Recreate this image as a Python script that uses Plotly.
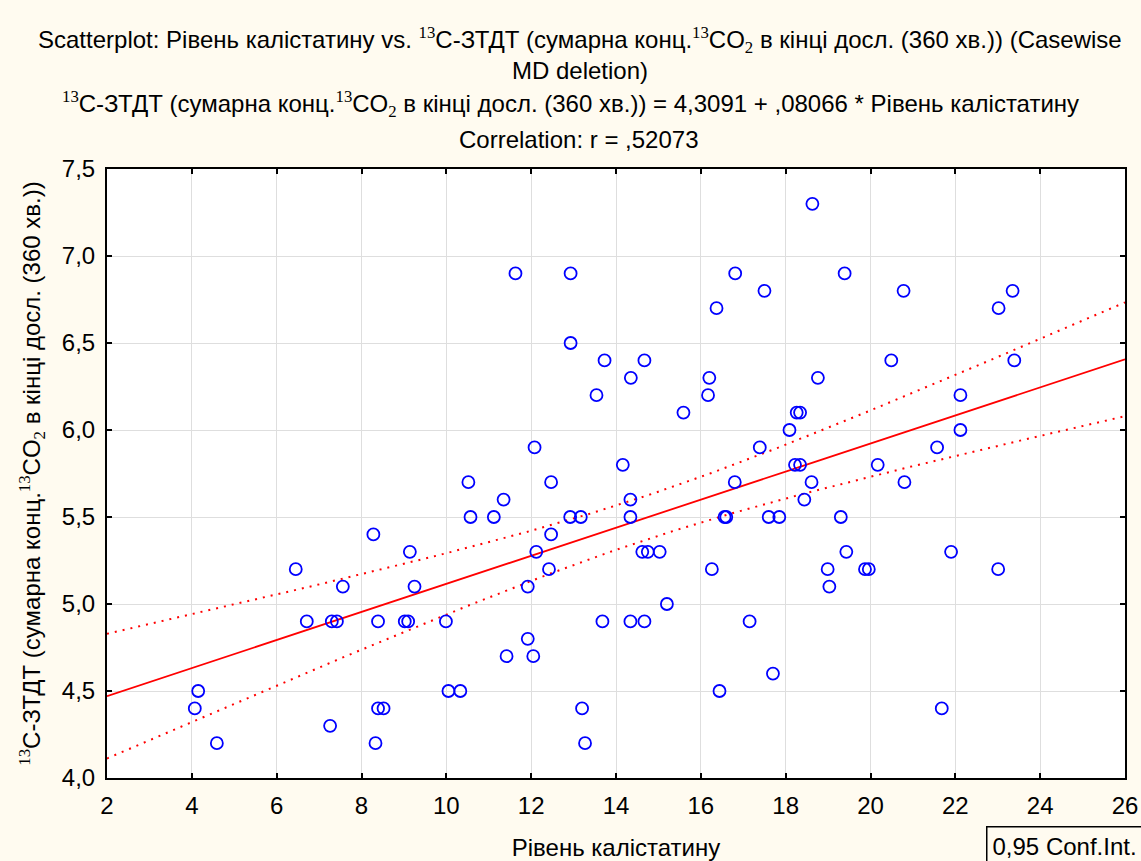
import numpy as np
import plotly.graph_objects as go

# ---- data ----
level_x = [
    18.63,
    11.63, 12.93, 16.81, 19.39,
    17.50, 20.78, 23.35,
    16.37, 23.02,
    12.93,
    13.73, 14.67, 20.49, 23.39,
    14.35, 16.20, 18.76,
    13.54, 16.17, 22.12,
    15.59, 18.26, 18.34,
    18.09, 22.12,
    12.08, 17.39, 21.57,
    14.16, 18.22, 18.34, 20.17,
    10.52, 12.47, 16.80, 18.61, 20.80,
    11.35, 14.34, 18.44,
    10.57, 11.12, 12.92, 13.17, 14.34, 16.56, 16.60, 17.60, 17.85, 19.30,
    8.28, 12.47,
    9.14, 12.12, 14.62, 14.75, 15.03, 19.43, 21.90,
    6.45, 12.42, 16.26, 18.99, 19.87, 19.96, 23.01,
    7.56, 9.25, 11.92, 19.03,
    15.20,
    6.71, 7.30, 7.42, 8.39, 9.02, 9.10, 9.99, 13.68, 14.34, 14.67, 17.15,
    11.92,
    11.42, 12.05,
    17.70,
    4.15, 10.05, 10.33, 16.44,
    4.07, 8.39, 8.52, 13.20, 21.68,
    7.26,
    4.59, 8.33, 13.27,
]
ztdt_y = [
    7.3,
    6.9, 6.9, 6.9, 6.9,
    6.8, 6.8, 6.8,
    6.7, 6.7,
    6.5,
    6.4, 6.4, 6.4, 6.4,
    6.3, 6.3, 6.3,
    6.2, 6.2, 6.2,
    6.1, 6.1, 6.1,
    6.0, 6.0,
    5.9, 5.9, 5.9,
    5.8, 5.8, 5.8, 5.8,
    5.7, 5.7, 5.7, 5.7, 5.7,
    5.6, 5.6, 5.6,
    5.5, 5.5, 5.5, 5.5, 5.5, 5.5, 5.5, 5.5, 5.5, 5.5,
    5.4, 5.4,
    5.3, 5.3, 5.3, 5.3, 5.3, 5.3, 5.3,
    5.2, 5.2, 5.2, 5.2, 5.2, 5.2, 5.2,
    5.1, 5.1, 5.1, 5.1,
    5.0,
    4.9, 4.9, 4.9, 4.9, 4.9, 4.9, 4.9, 4.9, 4.9, 4.9, 4.9,
    4.8,
    4.7, 4.7,
    4.6,
    4.5, 4.5, 4.5, 4.5,
    4.4, 4.4, 4.4, 4.4, 4.4,
    4.3,
    4.2, 4.2, 4.2,
]
intercept = 4.3091
slope = 0.08066
x_ticks = [2, 4, 6, 8, 10, 12, 14, 16, 18, 20, 22, 24, 26]
y_ticks = [4.0, 4.5, 5.0, 5.5, 6.0, 6.5, 7.0, 7.5]

# ---- regression & 95% confidence band ----
xa = np.array(level_x)
ya = np.array(ztdt_y)
n = len(xa)
resid = ya - (intercept + slope * xa)
s = np.sqrt(np.sum(resid ** 2) / (n - 2))
xbar = xa.mean()
sxx = np.sum((xa - xbar) ** 2)
t = 1.9845
xs = np.linspace(2, 26, 200)
yfit = intercept + slope * xs
half = t * s * np.sqrt(1.0 / n + (xs - xbar) ** 2 / sxx)

RED = "#ff0000"
fig = go.Figure()
fig.add_trace(go.Scatter(x=xs, y=yfit + half, mode="lines",
                         line=dict(color=RED, width=2, dash="2px,6px"), hoverinfo="skip"))
fig.add_trace(go.Scatter(x=xs, y=yfit - half, mode="lines",
                         line=dict(color=RED, width=2, dash="2px,6px"), hoverinfo="skip"))
fig.add_trace(go.Scatter(x=xs, y=yfit, mode="lines",
                         line=dict(color=RED, width=1.8), hoverinfo="skip"))
fig.add_trace(go.Scatter(x=level_x, y=ztdt_y, mode="markers",
                         marker=dict(symbol="circle-open", size=12, color="#0000ff",
                                     line=dict(width=1.8, color="#0000ff"))))

FONT = "Liberation Sans, Arial, sans-serif"
SER = "Liberation Serif, Times New Roman, serif"
FS = 24
def sup(t):
    return f"<sup><span style='font-family:{SER}'>{t}</span></sup>"
def sub(t):
    return f"<sub><span style='font-family:{SER}'>{t}</span></sub>"

title1 = ("Scatterplot: Рівень калістатину vs. " + sup("13") + "C-ЗТДТ (сумарна конц." + sup("13")
          + "CO" + sub("2") + " в кінці досл. (360 хв.)) (Casewise")
title2 = "MD deletion)"
title3 = (sup("13") + "C-ЗТДТ (сумарна конц." + sup("13") + "CO" + sub("2")
          + " в кінці досл. (360 хв.)) = 4,3091 + ,08066 * Рівень калістатину")
title4 = "Correlation: r = ,52073"
ytitle = sup("13") + "C-ЗТДТ (сумарна конц." + sup("13") + "CO" + sub("2") + " в кінці досл. (360 хв.))"

L, R, T, B = 107, 16, 169, 83
W, H = 1141, 861
pw, ph = W - L - R, H - T - B
def px(xpix):
    return (xpix - L) / pw
def py(ypix):
    return (H - B - ypix) / ph

ann = []
for txt, yy, xc in [(title1, 40, 580), (title2, 70, 580), (title3, 104, 570), (title4, 139, 578)]:
    ann.append(dict(text=txt, x=px(xc), y=py(yy), xref="paper", yref="paper",
                    xanchor="center", yanchor="middle", showarrow=False,
                    font=dict(size=FS, color="black", family=FONT)))
ann.append(dict(text="0,95 Conf.Int.", x=px(1064), y=py(846), xref="paper", yref="paper",
                xanchor="center", yanchor="middle", showarrow=False,
                bordercolor="black", borderwidth=1.5, borderpad=5, bgcolor="#fffbf0",
                font=dict(size=FS, color="black", family=FONT)))

axis_common = dict(showgrid=True, gridcolor="#dedede", gridwidth=1, zeroline=False,
                   showline=True, linecolor="black", linewidth=2, mirror="ticks",
                   ticks="inside", ticklen=5, tickcolor="black", tickwidth=1.5,
                   tickfont=dict(size=FS, family=FONT))
fig.update_layout(
    width=W, height=H,
    margin=dict(l=L, r=R, t=T, b=B, autoexpand=False),
    paper_bgcolor="#fffbf0", plot_bgcolor="white",
    separators=", ",
    showlegend=False,
    font=dict(family=FONT, size=FS, color="black"),
    xaxis=dict(range=[2, 26], tickvals=x_ticks, ticktext=[str(v) for v in x_ticks],
               ticklabelstandoff=5,
               title=dict(text="Рівень калістатину", standoff=22, font=dict(size=FS)),
               **axis_common),
    yaxis=dict(range=[4.0, 7.5], tickvals=y_ticks, tickformat=".1f",
               ticklabelstandoff=5,
               title=dict(text=ytitle, standoff=14, font=dict(size=FS)),
               **axis_common),
    annotations=ann,
)
fig.write_html("out.html")
